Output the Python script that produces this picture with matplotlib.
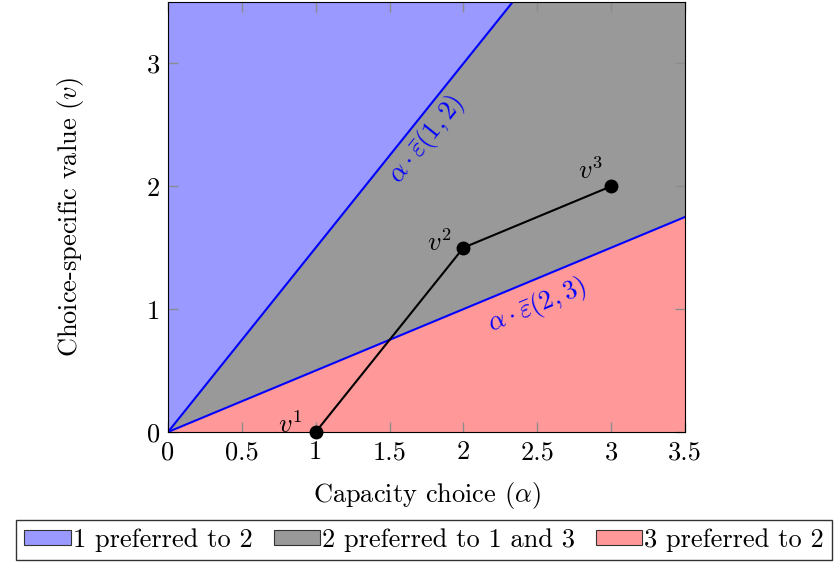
import numpy as np
import matplotlib.pyplot as plt
from matplotlib.patches import Patch

plt.rcParams['font.family'] = 'serif'
plt.rcParams['font.serif'] = ['cmr10', 'DejaVu Serif']
plt.rcParams['mathtext.fontset'] = 'cm'
plt.rcParams['axes.formatter.use_mathtext'] = True

# data
x_max = 3.5
y_max = 3.5
slope_12 = 1.5   # alpha * eps(1,2)
slope_23 = 0.5   # alpha * eps(2,3)
path_x = [1, 2, 3]
path_y = [0, 1.5, 2]
point_labels = ['$v^1$', '$v^2$', '$v^3$']
x_ticks = [0, 0.5, 1, 1.5, 2, 2.5, 3, 3.5]
x_tick_labels = ['0', '0.5', '1', '1.5', '2', '2.5', '3', '3.5']
y_ticks = [0, 1, 2, 3]
legend_labels = ['1 preferred to 2', '2 preferred to 1 and 3', '3 preferred to 2']

c_blue = '#9999ff'
c_gray = '#999999'
c_red = '#ff9999'
fs = 19

fig = plt.figure(figsize=(8.4, 5.65), dpi=100)
ax = fig.add_axes([0.2, 0.2354, 0.6155, 0.7611])

xs = np.array([0, x_max])
ax.fill_between(xs, slope_12 * xs, y_max, color=c_blue, lw=0)
ax.fill_between(xs, slope_23 * xs, slope_12 * xs, color=c_gray, lw=0)
ax.fill_between(xs, 0, slope_23 * xs, color=c_red, lw=0)
ax.plot(xs, slope_12 * xs, color='#0000ff', lw=1.5)
ax.plot(xs, slope_23 * xs, color='#0000ff', lw=1.5)

ax.plot(path_x, path_y, color='black', lw=1.5, marker='o', ms=9, zorder=5, clip_on=False)
offsets = [(-0.17, 0.06), (-0.16, 0.04), (-0.14, 0.13)]
for px, py, lab, (dx, dy) in zip(path_x, path_y, point_labels, offsets):
    ax.text(px + dx, py + dy, lab, fontsize=fs, ha='center', va='center')

ax.text(1.75, 2.38, r'$\alpha\cdot\bar{\varepsilon}(1,2)$', color='#0000ff', fontsize=fs,
        rotation=np.degrees(np.arctan(slope_12)), transform_rotates_text=True,
        rotation_mode='anchor', ha='center', va='center')
ax.text(2.5, 1.03, r'$\alpha\cdot\bar{\varepsilon}(2,3)$', color='#0000ff', fontsize=fs,
        rotation=np.degrees(np.arctan(slope_23)), transform_rotates_text=True,
        rotation_mode='anchor', ha='center', va='center')

ax.set_xlim(0, x_max)
ax.set_ylim(0, y_max)
ax.set_xticks(x_ticks)
ax.set_xticklabels(x_tick_labels)
ax.set_yticks(y_ticks)
ax.tick_params(direction='in', top=True, right=True, labelsize=fs, length=7.5,
               width=1, color='#8c8c8c', pad=6)
ax.set_xlabel(r'Capacity choice ($\alpha$)', fontsize=fs)
ax.set_ylabel(r'Choice-specific value ($v$)', fontsize=fs)
ax.xaxis.set_label_coords(0.5, -0.112)
ax.yaxis.set_label_coords(-0.159, 0.5)

handles = [Patch(facecolor=c, edgecolor='#333333', lw=0.8) for c in (c_blue, c_gray, c_red)]
fig.legend(handles, legend_labels, loc='center', bbox_to_anchor=(0.505, 0.0442), ncol=3,
           fontsize=fs, frameon=True, fancybox=False, edgecolor='black',
           handlelength=1.75, handleheight=0.45, handletextpad=0.08, columnspacing=0.8,
           borderpad=0.3, borderaxespad=0)

fig.savefig('out.png', dpi=100)
